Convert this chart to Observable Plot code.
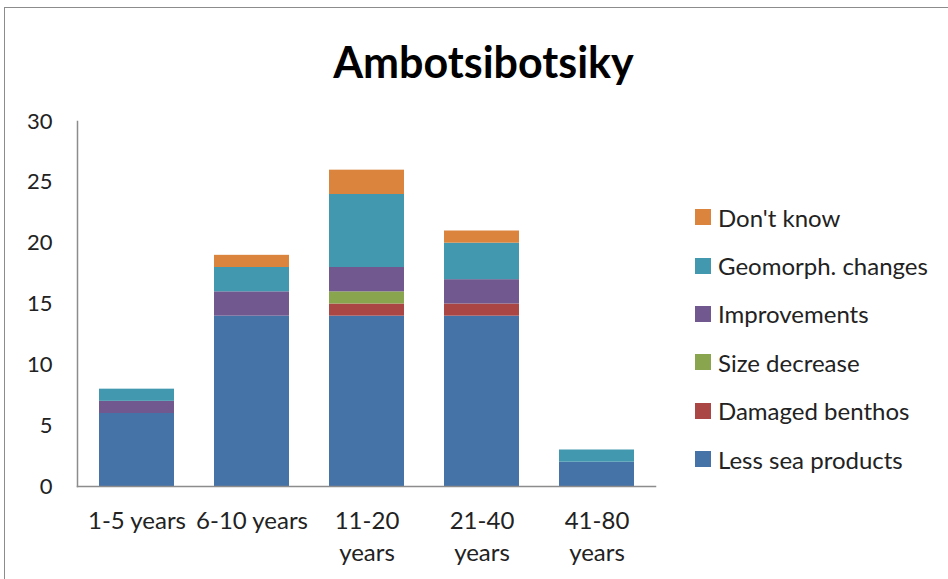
<!DOCTYPE html>
<html>
<head>
<meta charset="utf-8">
<script src="https://cdn.jsdelivr.net/npm/d3@7"></script>
<script src="https://cdn.jsdelivr.net/npm/@observablehq/plot@0.6"></script>
<style>
  html, body { margin: 0; padding: 0; background: #fff; }
  #wrap { position: relative; width: 948px; height: 579px; overflow: hidden; font-family: Lato, "Open Sans", sans-serif; }
  #frame { position: absolute; left: 4px; top: 7px; width: 980px; height: 620px; border: 1.5px solid #8c8c8c; box-sizing: border-box; }
  #title { position: absolute; left: 0; width: 967px; top: 36px; text-align: center; font-size: 43px; font-weight: bold; color: #000; line-height: 52px; }
  #chart { position: absolute; left: 0; top: 0; }
  #legend { position: absolute; left: 695px; top: 193px; }
  .item { display: flex; align-items: center; height: 48.4px; font-size: 24px; color: #222; }
  .sw { width: 16px; height: 16px; margin-right: 7px; flex: none; }
</style>
</head>
<body>
<div id="wrap">
  <div id="frame"></div>
  <div id="chart"></div>
  <div id="title">Ambotsibotsiky</div>
  <div id="legend"></div>
</div>
<script>
const categories = ["1-5 years", "6-10 years", "11-20 years", "21-40 years", "41-80 years"];
const tickLabels = ["1-5 years", "6-10 years", "11-20\nyears", "21-40\nyears", "41-80\nyears"];
const seriesNames = ["Less sea products", "Damaged benthos", "Size decrease", "Improvements", "Geomorph. changes", "Don't know"];
const seriesColors = ["#4572A7", "#AA4643", "#89A54E", "#71588F", "#4198AF", "#DB843D"];
const lessSeaProducts = [6, 14, 14, 14, 2];
const damagedBenthos  = [0, 0, 1, 1, 0];
const sizeDecrease    = [0, 0, 1, 0, 0];
const improvements    = [1, 2, 2, 2, 0];
const geomorphChanges = [1, 2, 6, 3, 1];
const dontKnow        = [0, 1, 2, 1, 0];
const yTicks = [0, 5, 10, 15, 20, 25, 30];

const seriesValues = [lessSeaProducts, damagedBenthos, sizeDecrease, improvements, geomorphChanges, dontKnow];
const rows = [];
seriesNames.forEach((s, i) => categories.forEach((c, j) => rows.push({category: c, series: s, value: seriesValues[i][j]})));

const chart = Plot.plot({
  width: 948,
  height: 579,
  marginLeft: 77,
  marginRight: 293,
  marginTop: 121,
  marginBottom: 93,
  style: {fontFamily: "Lato, 'Open Sans', sans-serif", fontSize: "22px", color: "#222", background: "transparent"},
  x: {domain: categories, paddingInner: 0.35, paddingOuter: 0.175, label: null},
  y: {domain: [0, 30], label: null},
  color: {domain: seriesNames, range: seriesColors},
  marks: [
    Plot.barY(rows, Plot.stackY({order: seriesNames}, {x: "category", y: "value", fill: "series"})),
    Plot.axisY({ticks: yTicks, tickSize: 0, tickPadding: 25, label: null, fontSize: 22, fill: "#222"}),
    Plot.axisX({tickSize: 0, tickPadding: 20, label: null, fontSize: 24, fill: "#222", lineHeight: 1.33,
      tickFormat: (d) => tickLabels[categories.indexOf(d)]}),
    Plot.frame({anchor: "left", stroke: "#8c8c8c", strokeWidth: 1.5}),
    Plot.frame({anchor: "bottom", stroke: "#8c8c8c", strokeWidth: 1.5})
  ]
});
document.getElementById("chart").appendChild(chart);

const legend = document.getElementById("legend");
seriesNames.slice().reverse().forEach((s) => {
  const i = seriesNames.indexOf(s);
  const row = document.createElement("div");
  row.className = "item";
  const sw = document.createElement("div");
  sw.className = "sw";
  sw.style.background = seriesColors[i];
  const t = document.createElement("span");
  t.textContent = s;
  row.appendChild(sw);
  row.appendChild(t);
  legend.appendChild(row);
});
</script>
</body>
</html>
